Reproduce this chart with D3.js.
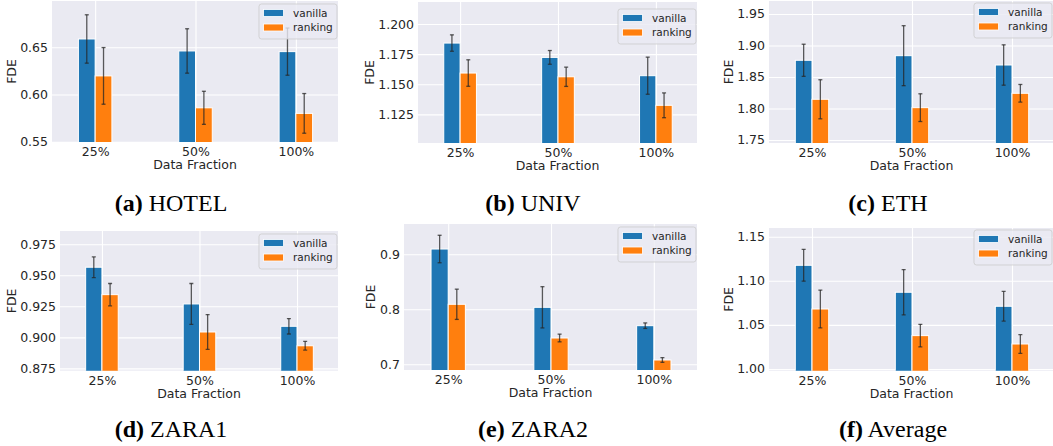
<!DOCTYPE html>
<html><head><meta charset="utf-8">
<script src="https://cdn.jsdelivr.net/npm/d3@7"></script>
<style>body{margin:0;background:#fff;} svg{display:block;}</style>
</head><body><svg id="chart" width="1053" height="446"></svg>
<script>
// ---------- data ----------
const categories = ["25%", "50%", "100%"];
const seriesNames = ["vanilla", "ranking"];
const panelLetters = ["(a)", "(b)", "(c)", "(d)", "(e)", "(f)"];
const panelNames = ["HOTEL", "UNIV", "ETH", "ZARA1", "ZARA2", "Average"];

const hotelVanilla = [0.6588, 0.6461, 0.6454];
const hotelVanillaErr = [0.0256, 0.0235, 0.025];
const hotelRanking = [0.6197, 0.5859, 0.5800];
const hotelRankingErr = [0.030, 0.0175, 0.021];
const hotelTicks = ["0.55", "0.60", "0.65"];

const univVanilla = [1.1842, 1.1723, 1.1571];
const univVanillaErr = [0.0068, 0.0057, 0.0154];
const univRanking = [1.1593, 1.1562, 1.1325];
const univRankingErr = [0.011, 0.008, 0.0103];
const univTicks = ["1.125", "1.150", "1.175", "1.200"];

const ethVanilla = [1.8765, 1.8838, 1.869];
const ethVanillaErr = [0.0255, 0.0476, 0.032];
const ethRanking = [1.8146, 1.8013, 1.8241];
const ethRankingErr = [0.031, 0.022, 0.014];
const ethTicks = ["1.75", "1.80", "1.85", "1.90", "1.95"];

const zara1Vanilla = [0.9565, 0.9269, 0.9089];
const zara1VanillaErr = [0.0083, 0.0165, 0.0062];
const zara1Ranking = [0.9344, 0.9043, 0.8932];
const zara1RankingErr = [0.009, 0.014, 0.0035];
const zara1Ticks = ["0.875", "0.900", "0.925", "0.950", "0.975"];

const zara2Vanilla = [0.9096, 0.8036, 0.7702];
const zara2VanillaErr = [0.025, 0.0375, 0.005];
const zara2Ranking = [0.8091, 0.7478, 0.7078];
const zara2RankingErr = [0.0275, 0.007, 0.0043];
const zara2Ticks = ["0.7", "0.8", "0.9"];

const avgVanilla = [1.1176, 1.087, 1.0711];
const avgVanillaErr = [0.018, 0.0257, 0.0168];
const avgRanking = [1.068, 1.0378, 1.0283];
const avgRankingErr = [0.0215, 0.0128, 0.0106];
const avgTicks = ["1.00", "1.05", "1.10", "1.15"];

const yLimits = [
  [0.5497, 0.6990], [1.1012, 1.2183], [1.7452, 1.9706],
  [0.8731, 0.9857], [0.6896, 0.9551], [0.998, 1.1599]
];

// ---------- layout (pixels) ----------
const layout = [
  {left: 52,  top: 1,   right: 338,  bottom: 142,   legendTop: 4,   capX: 171, capY: 211},
  {left: 418, top: 2,   right: 697,  bottom: 143,   legendTop: 9,   capX: 533, capY: 211},
  {left: 769, top: 1,   right: 1054, bottom: 143,   legendTop: 3,   capX: 888, capY: 211},
  {left: 60,  top: 231, right: 338,  bottom: 370.7, legendTop: 234, capX: 171, capY: 437},
  {left: 404, top: 224, right: 697,  bottom: 370,   legendTop: 227, capX: 533, capY: 437},
  {left: 769, top: 228, right: 1054, bottom: 370.7, legendTop: 230, capX: 893, capY: 437}
];

const panelData = [
  {v: hotelVanilla, ve: hotelVanillaErr, r: hotelRanking, re: hotelRankingErr, ticks: hotelTicks},
  {v: univVanilla, ve: univVanillaErr, r: univRanking, re: univRankingErr, ticks: univTicks},
  {v: ethVanilla, ve: ethVanillaErr, r: ethRanking, re: ethRankingErr, ticks: ethTicks},
  {v: zara1Vanilla, ve: zara1VanillaErr, r: zara1Ranking, re: zara1RankingErr, ticks: zara1Ticks},
  {v: zara2Vanilla, ve: zara2VanillaErr, r: zara2Ranking, re: zara2RankingErr, ticks: zara2Ticks},
  {v: avgVanilla, ve: avgVanillaErr, r: avgRanking, re: avgRankingErr, ticks: avgTicks}
];

const colors = ["#1f77b4", "#ff7f0e"];
const textColor = "#262626";
const FONT = "'DejaVu Sans', sans-serif";
const barW = 0.167;

const svg = d3.select("#chart");
const defs = svg.append("defs");

panelData.forEach((p, i) => {
  const L = layout[i];
  const x = d3.scaleLinear().domain([-0.43, 2.42]).range([L.left, L.right]);
  const y = d3.scaleLinear().domain(yLimits[i]).range([L.bottom, L.top]);
  const g = svg.append("g");
  const clipId = "clip" + i;
  defs.append("clipPath").attr("id", clipId).append("rect")
    .attr("x", L.left).attr("y", L.top).attr("width", L.right - L.left).attr("height", L.bottom - L.top);

  g.append("rect").attr("x", L.left).attr("y", L.top)
    .attr("width", L.right - L.left).attr("height", L.bottom - L.top).attr("fill", "#EAEAF2");

  const tickVals = p.ticks.map(Number);
  // horizontal grid
  const gy = g.append("g").attr("transform", `translate(${L.left},0)`)
    .call(d3.axisLeft(y).tickValues(tickVals).tickSize(-(L.right - L.left)).tickFormat(""));
  gy.select(".domain").remove();
  gy.selectAll("line").attr("stroke", "#fff").attr("stroke-width", 1.1);
  // vertical grid
  const gx = g.append("g").attr("transform", `translate(0,${L.bottom})`)
    .call(d3.axisBottom(x).tickValues([0, 1, 2]).tickSize(-(L.bottom - L.top)).tickFormat(""));
  gx.select(".domain").remove();
  gx.selectAll("line").attr("stroke", "#fff").attr("stroke-width", 1.1);

  const plot = g.append("g").attr("clip-path", `url(#${clipId})`);
  const series = [{vals: p.v, errs: p.ve, off: -barW}, {vals: p.r, errs: p.re, off: 0}];
  series.forEach((s, si) => {
    plot.selectAll(null).data(s.vals).enter().append("rect")
      .attr("x", (d, k) => x(k + s.off))
      .attr("width", (d, k) => x(k + s.off + barW) - x(k + s.off))
      .attr("y", d => y(d))
      .attr("height", d => y(yLimits[i][0]) - y(d) + 5)
      .attr("fill", colors[si]).attr("stroke", "#fff").attr("stroke-width", 1);
  });
  series.forEach((s, si) => {
    s.vals.forEach((d, k) => {
      const cx = x(k + s.off + barW / 2);
      const eg = plot.append("g").attr("stroke", "#262626").attr("stroke-opacity", 0.75).attr("stroke-width", 1.3);
      eg.append("line").attr("x1", cx).attr("x2", cx).attr("y1", y(d - s.errs[k])).attr("y2", y(d + s.errs[k]));
      eg.append("line").attr("x1", cx - 2).attr("x2", cx + 2).attr("y1", y(d - s.errs[k])).attr("y2", y(d - s.errs[k]));
      eg.append("line").attr("x1", cx - 2).attr("x2", cx + 2).attr("y1", y(d + s.errs[k])).attr("y2", y(d + s.errs[k]));
    });
  });

  // y axis labels
  const ay = g.append("g").attr("transform", `translate(${L.left},0)`)
    .call(d3.axisLeft(y).tickValues(tickVals).tickSize(0).tickPadding(4).tickFormat((d, k) => p.ticks[k]));
  ay.select(".domain").remove();
  ay.selectAll("text").attr("fill", textColor).style("font-family", FONT).style("font-size", "12.5px");
  let maxW = 0;
  ay.selectAll("text").each(function () { maxW = Math.max(maxW, this.getComputedTextLength()); });

  // x axis labels
  const ax = g.append("g").attr("transform", `translate(0,${L.bottom})`)
    .call(d3.axisBottom(x).tickValues([0, 1, 2]).tickSize(0).tickPadding(5).tickFormat((d) => categories[d]));
  ax.select(".domain").remove();
  ax.selectAll("text").attr("fill", textColor).style("font-family", FONT).style("font-size", "12.5px");

  g.append("text").attr("x", (L.left + L.right) / 2).attr("y", L.bottom + 27)
    .attr("text-anchor", "middle").attr("fill", textColor)
    .style("font-family", FONT).style("font-size", "12.5px").text("Data Fraction");

  const lx = L.left - 4 - maxW - 9;
  const ly = (L.top + L.bottom) / 2;
  g.append("text").attr("transform", `translate(${lx},${ly}) rotate(-90)`)
    .attr("text-anchor", "middle").attr("dy", "0.35em").attr("fill", textColor)
    .style("font-family", FONT).style("font-size", "12.5px").text("FDE");

  // legend
  const lgW = 78, lgH = 35;
  const lgX = Math.min(L.right, 1053) - 1 - lgW;
  const lg = g.append("g").attr("transform", `translate(${lgX},${L.legendTop})`);
  lg.append("rect").attr("width", lgW).attr("height", lgH).attr("rx", 2.5)
    .attr("fill", "#EAEAF2").attr("fill-opacity", 0.8).attr("stroke", "#cccccc").attr("stroke-opacity", 0.8);
  seriesNames.forEach((n, si) => {
    const cy = 9 + si * 14.5;
    lg.append("rect").attr("x", 4.5).attr("y", cy - 3.5).attr("width", 20).attr("height", 7)
      .attr("fill", colors[si]).attr("stroke", "#fff").attr("stroke-width", 0.8);
    lg.append("text").attr("x", 34).attr("y", cy).attr("dy", "0.35em").attr("fill", textColor)
      .style("font-family", FONT).style("font-size", "10.5px").text(n);
  });

  // caption
  const cap = svg.append("text").attr("x", L.capX).attr("y", L.capY).attr("text-anchor", "middle")
    .attr("fill", "#000").style("font-family", "'Liberation Serif', 'Times New Roman', serif").style("font-size", "24px");
  cap.append("tspan").attr("font-weight", "bold").text(panelLetters[i]);
  cap.append("tspan").text(" " + panelNames[i]);
});
</script>
</body></html>
